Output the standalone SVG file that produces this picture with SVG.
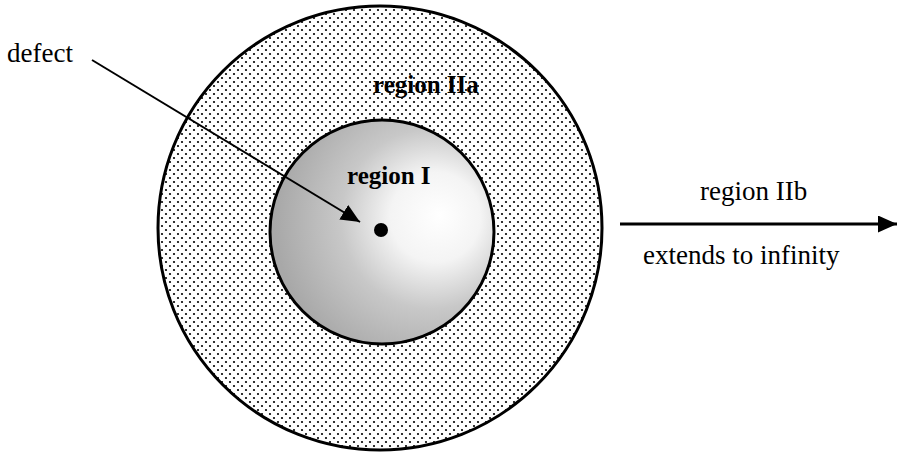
<svg xmlns="http://www.w3.org/2000/svg" width="898" height="454" viewBox="0 0 898 454">
  <style>
    .ring { stroke: #000; stroke-width: 3; }
    .lbl { font-family: "Liberation Serif", "Times New Roman", serif; font-size: 27px; fill: #000; }
    .lblb { font-family: "Liberation Serif", "Times New Roman", serif; font-size: 25px; font-weight: bold; fill: #000; }
    .conn { stroke: #000; fill: none; }
  </style>
  <defs>
    <pattern id="dots" x="0" y="0" width="8" height="8" patternUnits="userSpaceOnUse">
      <rect width="8" height="8" fill="#fff"/>
      <circle cx="2" cy="2" r="1.1" fill="#000"/>
      <circle cx="6" cy="6" r="1.1" fill="#000"/>
    </pattern>
    <radialGradient id="core" gradientUnits="userSpaceOnUse" cx="425" cy="222" r="150" fx="440" fy="215">
      <stop offset="0" stop-color="#ffffff"/>
      <stop offset="0.3" stop-color="#f4f4f4"/>
      <stop offset="0.6" stop-color="#c8c8c8"/>
      <stop offset="1" stop-color="#a8a8a8"/>
    </radialGradient>
    <marker id="head" markerUnits="userSpaceOnUse" markerWidth="20" markerHeight="18" refX="19" refY="8.5" orient="auto">
      <path d="M0,0 L19,8.5 L0,17 Z" fill="#000"/>
    </marker>
  </defs>
  <rect width="898" height="454" fill="#fff"/>

  <g id="region-IIa">
    <circle class="ring" cx="380" cy="228" r="222" fill="url(#dots)"/>
    <text class="lblb" x="373" y="93">region IIa</text>
  </g>

  <g id="region-I">
    <circle class="ring" cx="382" cy="232" r="112" fill="url(#core)"/>
    <text class="lblb" x="347" y="184">region I</text>
  </g>

  <g id="defect">
    <circle cx="381" cy="230" r="7" fill="#000"/>
    <text class="lbl" x="7" y="62">defect</text>
  </g>

  <g id="region-IIb">
    <text class="lbl" x="700" y="200">region IIb</text>
    <text class="lbl" x="643" y="264">extends to infinity</text>
  </g>

  <g id="connectors">
    <line class="conn" x1="92" y1="60" x2="360" y2="222" stroke-width="2" marker-end="url(#head)"/>
    <line class="conn" x1="620" y1="224" x2="897" y2="224" stroke-width="3" marker-end="url(#head)"/>
  </g>
</svg>
